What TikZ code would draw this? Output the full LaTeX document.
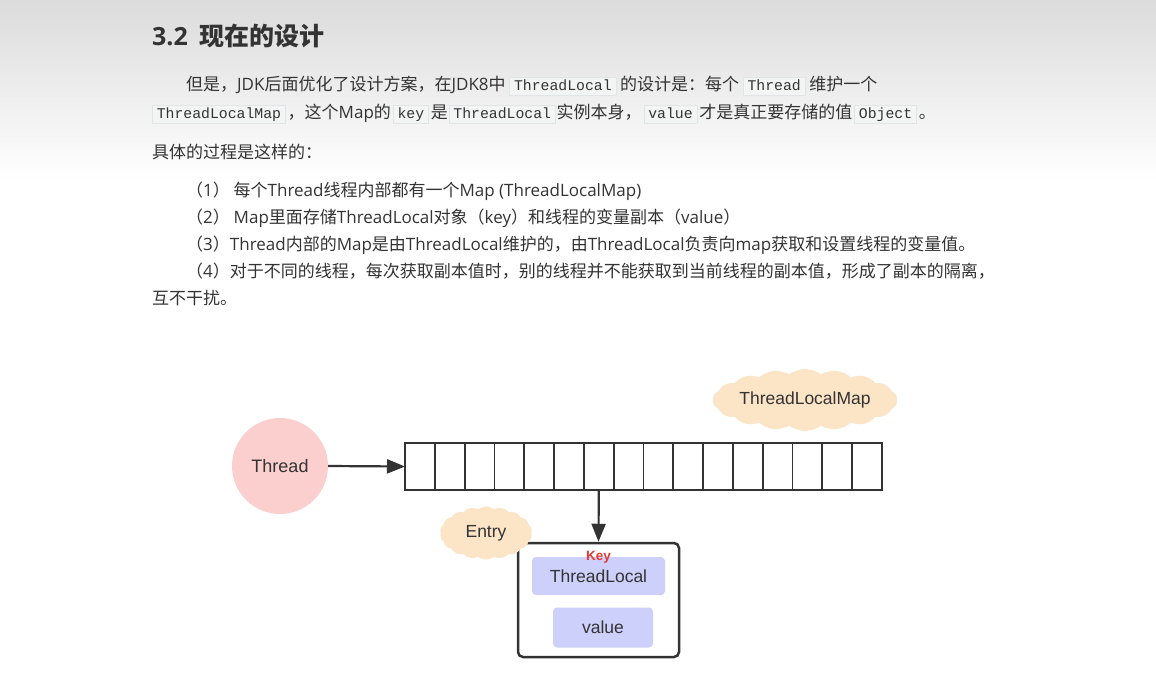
\documentclass[tikz,border=0pt]{standalone}
\usepackage{fontspec}
\usetikzlibrary{arrows.meta,positioning,shapes.symbols}
\setmainfont{Open Sans}
\newfontfamily\zh{Noto Sans CJK SC}
\newfontfamily\latin{Open Sans}
\newfontfamily\mono{Liberation Mono}
\newfontfamily\dia{Liberation Sans}
\definecolor{ink}{HTML}{333333}
\definecolor{codebg}{HTML}{F3F4F4}
\definecolor{codeline}{HTML}{E2E5E8}
\definecolor{threadpink}{HTML}{FCCFCF}
\definecolor{peach}{HTML}{FCE4C6}
\definecolor{lilac}{HTML}{CCD0FA}
\definecolor{keyred}{HTML}{E53935}
\newcommand\en[1]{{\latin #1}}
\newcommand\code[1]{{\setlength\fboxsep{1.8pt}\setlength\fboxrule{0.8pt}\fcolorbox{codeline}{codebg}{\hspace{2pt}\mono\fontsize{14.8}{18}\selectfont\vphantom{Tp}#1\hspace{2pt}}}}

\begin{document}
\begin{tikzpicture}[x=1pt, y=-1pt,
  body/.style={anchor=base west, inner sep=0, text=ink, font=\zh\fontsize{17}{20}\selectfont},
  cellbox/.style={draw=ink, line width=1.8pt, minimum width=29.8125pt, minimum height=47pt, inner sep=0, outer sep=0},
  conn/.style={draw=ink, line width=2.2pt, -{Triangle[length=18pt, width=14pt]}},
  cloudnote/.style={cloud, cloud ignores aspect, cloud puffs=18, cloud puff arc=75, fill=peach, inner sep=0, text=ink, font=\dia\fontsize{17.5}{20}\selectfont},
  slot/.style={fill=lilac, rounded corners=4pt, inner sep=0, text=ink, font=\dia\fontsize{17.5}{20}\selectfont}
]
  \useasboundingbox (0,0) rectangle (1156,681);
  \fill[white] (0,0) rectangle (1156,681);
  \shade[top color=black!14, bottom color=white] (0,0) rectangle (1156,180);

  % text of the page
  \node[anchor=base west, inner sep=0, text=ink, font=\zh\bfseries\fontsize{25}{30}\selectfont] (title) at (152,45) {\en{3.2}\hspace{12pt}现在的设计};
  \node[body] (para1) at (186,90) {但是，\en{JDK}后面优化了设计方案，在\en{JDK8}中 \code{ThreadLocal} 的设计是：每个 \code{Thread} 维护一个};
  \node[body] (para2) at (152,118) {\code{ThreadLocalMap}\hspace{2pt}，这个\en{Map}的\hspace{2pt}\code{key}\hspace{2pt}是\hspace{1pt}\code{ThreadLocal}\hspace{1pt}实例本身，\hspace{2pt}\code{value}\hspace{2pt}才是真正要存储的值\hspace{2pt}\code{Object}\hspace{2pt}。};
  \node[body] (lead) at (152,158) {具体的过程是这样的：};
  \node[body] (item1) at (186,196.5) {（\en{1}） 每个\en{Thread}线程内部都有一个\en{Map (ThreadLocalMap)}};
  \node[body] (item2) at (186,223.5) {（\en{2}） \en{Map}里面存储\en{ThreadLocal}对象（\en{key}）和线程的变量副本（\en{value}）};
  \node[body] (item3) at (186,250.5) {（\en{3}）\en{Thread}内部的\en{Map}是由\en{ThreadLocal}维护的，由\en{ThreadLocal}负责向\en{map}获取和设置线程的变量值。};
  \node[body] (item4) at (186,277) {（\en{4}）对于不同的线程，每次获取副本值时，别的线程并不能获取到当前线程的副本值，形成了副本的隔离，};
  \node[body] (item4b) at (152,304) {互不干扰。};

  % diagram
  \node[circle, fill=threadpink, minimum size=96pt, inner sep=0, text=ink, font=\dia\fontsize{18}{20}\selectfont] (thread) at (280,466) {Thread};
  \foreach \i in {1,...,16}
    \node[cellbox] (cell\i) at ({405+(\i-0.5)*29.8125},466.5) {};
  \node[cloudnote, minimum width=180pt, minimum height=62pt] (mapnote) at (805,400) {ThreadLocalMap};

  \node[draw=ink, line width=2.5pt, rounded corners=5pt, minimum width=161pt, minimum height=114pt] (entry) at (598.5,600) {};
  \node[slot, minimum width=133pt, minimum height=38pt] (keyslot) at (598.5,576) {ThreadLocal};
  \node[inner sep=0, text=keyred, font=\dia\bfseries\fontsize{13.5}{15}\selectfont] (keytag) at (598.5,557) {Key};
  \node[slot, minimum width=100pt, minimum height=40pt] (valueslot) at (603,627.5) {value};
  \node[cloudnote, minimum width=92pt, minimum height=53pt] (entrynote) at (486,533) {Entry};

  \draw[conn] (thread.east) -- (cell1.west);
  \draw[conn] (cell7.south) -- (entry.north);
\end{tikzpicture}
\end{document}
